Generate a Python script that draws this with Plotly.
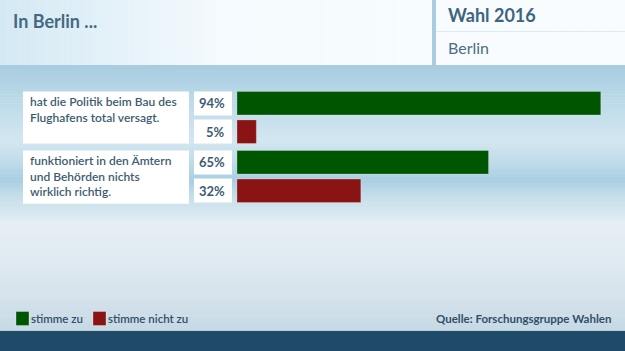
import plotly.graph_objects as go

# ---------------- data ----------------
statements = [
    "hat die Politik beim Bau des<br>Flughafens total versagt.",
    "funktioniert in den Ämtern<br>und Behörden nichts<br>wirklich richtig.",
]
agree = [94, 65]
disagree = [5, 32]
series_names = ["stimme zu", "stimme nicht zu"]
series_colors = ["#005500", "#8a1313"]
title_text = "In Berlin ..."
header_top = "Wahl 2016"
header_bottom = "Berlin"
source_text = "Quelle: Forschungsgruppe Wahlen"

W, H = 625, 351
FONT = "Lato"
TXT = "#3d5c71"


def px(x):
    return x / W


def py(y):
    return 1 - y / H


def hexmix(c1, c2, t):
    a = [int(c1[i:i + 2], 16) for i in (1, 3, 5)]
    b = [int(c2[i:i + 2], 16) for i in (1, 3, 5)]
    return "#" + "".join(f"{round(a[i] + (b[i] - a[i]) * t):02x}" for i in range(3))


fig = go.Figure()
cats = list(range(len(statements)))
for vals, name, col in zip([agree, disagree], series_names, series_colors):
    fig.add_trace(go.Bar(
        y=cats, x=vals, orientation="h", name=name,
        marker=dict(color=col, line=dict(color="rgba(255,255,255,0.25)", width=1)),
        hoverinfo="x+name", showlegend=False,
    ))

shapes = []
# background gradient (style only)
stops = [(67, "#a9cde0"), (85, "#b3d4e5"), (140, "#d3e7f1"), (160, "#c2dcea"),
         (180, "#a9cfe2"), (195, "#c3dde9"), (225, "#e6eff5"), (290, "#d8e4ec"),
         (331, "#c6d9e4")]
for (y0, c0), (y1, c1) in zip(stops[:-1], stops[1:]):
    n = max(1, (y1 - y0) // 3)
    for k in range(n):
        ya = y0 + (y1 - y0) * k / n
        yb = y0 + (y1 - y0) * (k + 1) / n
        shapes.append(dict(type="rect", xref="paper", yref="paper", x0=0, x1=1,
                           y0=py(yb + 0.5), y1=py(ya), fillcolor=hexmix(c0, c1, (k + 0.5) / n),
                           line=dict(width=0), layer="below"))
# header left gradient
hs = [(0, "#d4e9f4"), (220, "#f4fafd"), (433, "#f7fcfe")]
for (x0, c0), (x1, c1) in zip(hs[:-1], hs[1:]):
    n = max(1, (x1 - x0) // 6)
    for k in range(n):
        xa = x0 + (x1 - x0) * k / n
        xb = x0 + (x1 - x0) * (k + 1) / n
        shapes.append(dict(type="rect", xref="paper", yref="paper", x0=px(xa), x1=px(xb + 0.5),
                           y0=py(66), y1=1, fillcolor=hexmix(c0, c1, (k + 0.5) / n),
                           line=dict(width=0), layer="below"))
# header right block, divider, lines
shapes += [
    dict(type="rect", xref="paper", yref="paper", x0=px(436), x1=1, y0=py(66), y1=1,
         fillcolor="#f8fcfe", line=dict(width=0), layer="below"),
    dict(type="rect", xref="paper", yref="paper", x0=px(432), x1=px(436), y0=py(66), y1=1,
         fillcolor="#a9cde0", line=dict(width=0), layer="below"),
    dict(type="line", xref="paper", yref="paper", x0=px(436), x1=1, y0=py(31.5), y1=py(31.5),
         line=dict(color="#dcecf4", width=1), layer="below"),
    dict(type="rect", xref="paper", yref="paper", x0=0, x1=1, y0=py(69), y1=py(65),
         fillcolor="#a9cde0", line=dict(width=0), layer="below"),
    dict(type="rect", xref="paper", yref="paper", x0=0, x1=1, y0=0, y1=py(331),
         fillcolor="#1f4b69", line=dict(width=0), layer="below"),
    dict(type="line", xref="paper", yref="paper", x0=0, x1=1, y0=py(330.5), y1=py(330.5),
         line=dict(color="#b5cddb", width=1), layer="below"),
]

off = 0.238   # bar offset within a group (category units)
half = 0.203  # half height of percent boxes
annotations = []
for i, s in enumerate(statements):
    # statement box
    shapes.append(dict(type="rect", xref="paper", yref="y", x0=px(23), x1=px(189),
                       y0=i - off - half, y1=i + off + half + (0.02 if i == 1 else 0),
                       fillcolor="white", line=dict(width=0), layer="below"))
    annotations.append(dict(xref="paper", yref="y", x=px(28), y=i - off - half,
                            text=s, showarrow=False, xanchor="left", yanchor="top",
                            align="left", yshift=-1,
                            font=dict(family=FONT, size=12, color=TXT, weight=600)))
    for sign, v in ((-1, agree[i]), (1, disagree[i])):
        yc = i + sign * off
        shapes.append(dict(type="rect", xref="paper", yref="y", x0=px(194), x1=px(232),
                           y0=yc - half, y1=yc + half, fillcolor="white",
                           line=dict(width=0), layer="below"))
        annotations.append(dict(xref="paper", yref="y", x=px(227), y=yc,
                                text=f"{v}%", showarrow=False, xanchor="right",
                                yanchor="middle",
                                font=dict(family=FONT, size=13, color=TXT, weight=700)))

# header texts
annotations += [
    dict(xref="paper", yref="paper", x=px(11), y=py(21), text=title_text, showarrow=False,
         xanchor="left", yanchor="middle",
         font=dict(family=FONT, size=18, color="#456a80", weight=700)),
    dict(xref="paper", yref="paper", x=px(446), y=py(15), text=header_top, showarrow=False,
         xanchor="left", yanchor="middle",
         font=dict(family=FONT, size=18, color="#3d6580", weight=700)),
    dict(xref="paper", yref="paper", x=px(446), y=py(47), text=header_bottom, showarrow=False,
         xanchor="left", yanchor="middle",
         font=dict(family=FONT, size=16, color="#4a6f85")),
    dict(xref="paper", yref="paper", x=px(613), y=py(318), text=source_text, showarrow=False,
         xanchor="right", yanchor="middle",
         font=dict(family=FONT, size=11.5, color="#2f5068", weight=700)),
]
# manual legend
lx = [16, 93]
for x0, name, col in zip(lx, series_names, series_colors):
    shapes.append(dict(type="rect", xref="paper", yref="paper", x0=px(x0), x1=px(x0 + 13),
                       y0=py(325.5), y1=py(311.5), fillcolor=col,
                       line=dict(color="rgba(255,255,255,0.3)", width=1)))
    annotations.append(dict(xref="paper", yref="paper", x=px(x0 + 13), y=py(318), text=name,
                            showarrow=False, xanchor="left", yanchor="middle",
                            font=dict(family=FONT, size=11.5, color="#2f5068", weight=600)))

fig.update_layout(
    width=W, height=H, margin=dict(l=0, r=0, t=0, b=0),
    paper_bgcolor="white", plot_bgcolor="rgba(0,0,0,0)",
    barmode="group", bargap=0.034, bargroupgap=0.175,
    xaxis=dict(domain=[px(237), px(624)], range=[0, 100], visible=False, fixedrange=True),
    yaxis=dict(domain=[py(206.1), py(87.9)], range=[1.5, -0.5], visible=False, fixedrange=True),
    shapes=shapes, annotations=annotations, showlegend=False,
)
fig.write_html("out.html")
